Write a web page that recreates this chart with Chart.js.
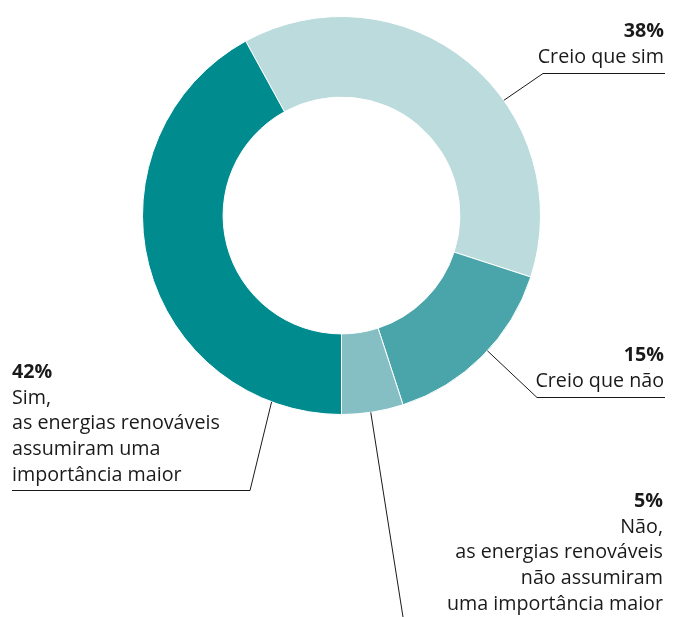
<!DOCTYPE html>
<html>
<head>
<meta charset="utf-8">
<script src="https://cdn.jsdelivr.net/npm/chart.js@4/dist/chart.umd.min.js"></script>
<style>
  html, body { margin: 0; padding: 0; background: #ffffff; }
  #wrap { width: 683px; height: 617px; position: relative; }
</style>
</head>
<body>
<div id="wrap"><canvas id="c" width="683" height="617"></canvas></div>
<script>
// ---- data ----
const categories = [
  'Creio que sim',
  'Creio que não',
  'Não, as energias renováveis não assumiram uma importância maior',
  'Sim, as energias renováveis assumiram uma importância maior'
];
const shares = [38, 15, 5, 42];
const percentLabels = ['38%', '15%', '5%', '42%'];
const labelLines = [
  ['Creio que sim'],
  ['Creio que não'],
  ['Não,', 'as energias renováveis', 'não assumiram', 'uma importância maior'],
  ['Sim,', 'as energias renováveis', 'assumiram uma', 'importância maior']
];
const sliceColors = ['#bbdbdc', '#49a5aa', '#85bfc4', '#008b8f'];

// ---- label layout (annotation placement, not data) ----
const FONT = '"Open Sans", "Noto Sans", sans-serif';
const FS = 19.7;
const LH = 25.7;
const labelLayout = [
  { frac: 0.61, side: 'right', textX: 664, firstBaseline: 37, elbow: [543, 73], lineEnd: 665 },
  { frac: 0.46, side: 'right', textX: 664, firstBaseline: 361, elbow: [537, 397], lineEnd: 665 },
  { frac: 0.53, side: 'right', textX: 663, firstBaseline: 507, elbow: null, bottomEnd: [403, 617] },
  { frac: 0.136, side: 'left', textX: 12, firstBaseline: 378, elbow: [250, 490], lineEnd: 12 }
];

const leaderPlugin = {
  id: 'leaders',
  afterDatasetsDraw(chart) {
    const ctx = chart.ctx;
    const meta = chart.getDatasetMeta(0);
    ctx.save();
    meta.data.forEach((arc, i) => {
      const L = labelLayout[i];
      const p = arc.getProps(['x', 'y', 'startAngle', 'endAngle', 'outerRadius'], true);
      const a = p.startAngle + L.frac * (p.endAngle - p.startAngle);
      const sx = p.x + Math.cos(a) * p.outerRadius;
      const sy = p.y + Math.sin(a) * p.outerRadius;
      ctx.strokeStyle = '#1a1a1a';
      ctx.lineWidth = 1;
      ctx.beginPath();
      ctx.moveTo(sx, sy);
      if (L.elbow) {
        ctx.lineTo(L.elbow[0], L.elbow[1] + 0.5);
        ctx.lineTo(L.lineEnd, L.elbow[1] + 0.5);
      } else {
        ctx.lineTo(L.bottomEnd[0], L.bottomEnd[1]);
      }
      ctx.stroke();

      // text
      ctx.fillStyle = '#1a1a1a';
      ctx.textAlign = L.side === 'right' ? 'right' : 'left';
      ctx.textBaseline = 'alphabetic';
      ctx.font = 'bold ' + FS + 'px ' + FONT;
      ctx.fillText(percentLabels[i], L.textX, L.firstBaseline);
      ctx.font = FS + 'px ' + FONT;
      labelLines[i].forEach((t, k) => {
        ctx.fillText(t, L.textX, L.firstBaseline + LH * (k + 1));
      });
    });
    ctx.restore();
  }
};

new Chart(document.getElementById('c'), {
  type: 'doughnut',
  data: {
    labels: categories,
    datasets: [{
      data: shares,
      backgroundColor: sliceColors,
      borderColor: '#ffffff',
      borderWidth: 1,
      hoverOffset: 0
    }]
  },
  options: {
    responsive: false,
    animation: false,
    rotation: -28.8,
    cutout: '59.5%',
    layout: { padding: { left: 142, right: 142, top: 16, bottom: 202 } },
    plugins: {
      legend: { display: false },
      tooltip: { enabled: false }
    },
    events: []
  },
  plugins: [leaderPlugin]
});
</script>
</body>
</html>
